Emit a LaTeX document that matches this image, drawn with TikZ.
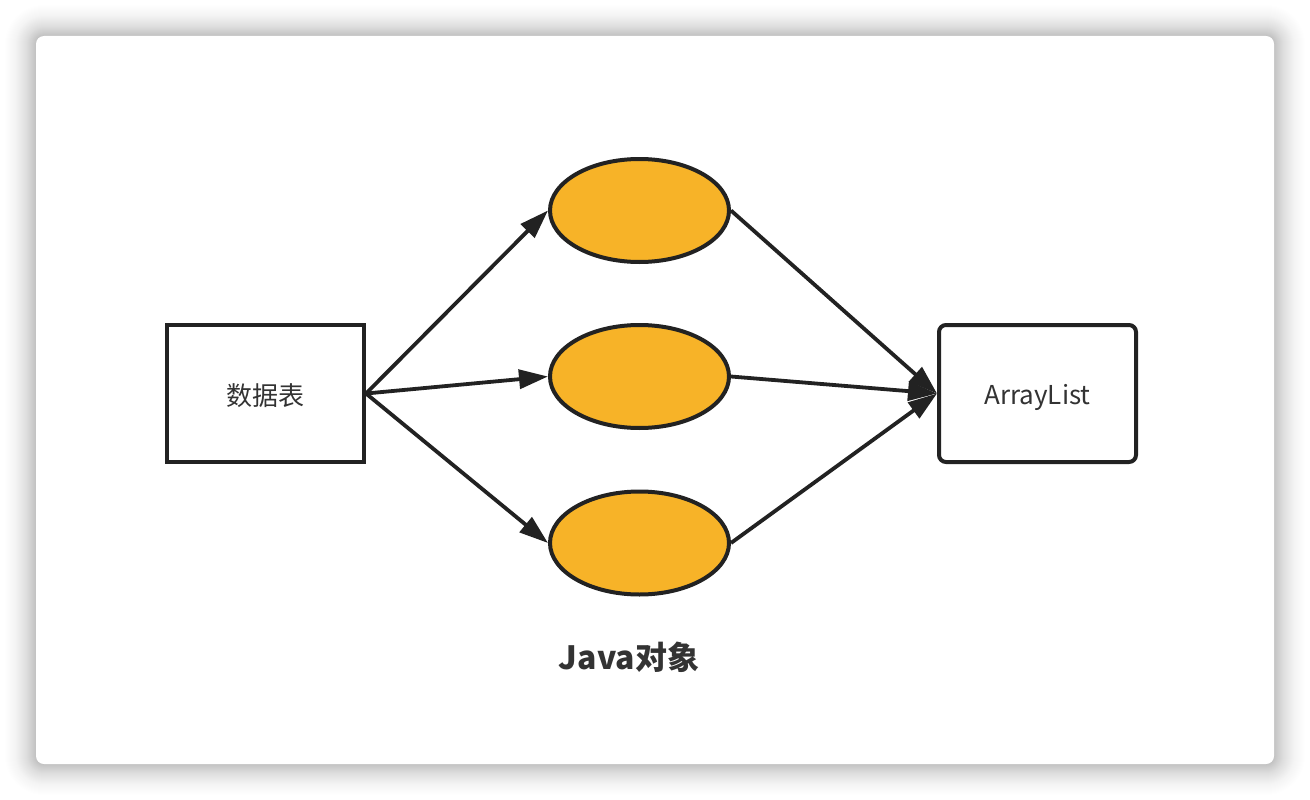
\documentclass[tikz,border=0pt]{standalone}
\usepackage{fontspec}
\setmainfont{Noto Sans CJK SC}
\usetikzlibrary{arrows.meta,shapes.geometric}
\definecolor{ink}{HTML}{222222}
\definecolor{txt}{HTML}{333333}
\definecolor{fillorange}{HTML}{F7B328}
\tikzset{
  boxnode/.style={draw=ink,line width=4pt,minimum width=197pt,minimum height=137pt,inner sep=0pt,font=\fontsize{26}{30}\selectfont,text=txt},
  objnode/.style={ellipse,draw=ink,fill=fillorange,line width=4pt,minimum width=179pt,minimum height=103pt,inner sep=0pt},
  conn/.style={draw=ink,line width=3.8pt,-{Triangle[length=29pt,width=19pt]}},
}
\begin{document}
\begin{tikzpicture}[x=1pt,y=-1pt]
\useasboundingbox (0,0) rectangle (1310,800);
\fill[white] (0,0) rectangle (1310,800);
\foreach \i in {1,...,36}{
  \pgfmathsetmacro\op{0.00035*(37-\i)}
  \fill[black,opacity=\op,rounded corners={(8+\i)*1pt}] ({36-\i},{36-\i}) rectangle ({1274+\i},{764+\i});
}
\fill[white,rounded corners=8pt] (36,36) rectangle (1274,764);

\node[boxnode] (db) at (265.5,393.5) {\smash{\raisebox{-11.5pt}{数据表}}};
\node[boxnode,rounded corners=7pt] (al) at (1037.5,393.5) {\smash{\raisebox{-10.5pt}{ArrayList}}};
\node[objnode] (o1) at (639.5,210.5) {};
\node[objnode] (o2) at (639.5,376.5) {};
\node[objnode] (o3) at (639.5,543) {};

\draw[conn] (db.east) -- (o1.west);
\draw[conn] (db.east) -- (o2.west);
\draw[conn] (db.east) -- (o3.west);
\draw[conn] (o1.east) -- (al.west);
\draw[conn] (o2.east) -- (al.west);
\draw[conn] (o3.east) -- (al.west);

\node[font=\fontsize{32}{36}\selectfont\bfseries,text=txt] (cap) at (629,657) {Java对象};
\end{tikzpicture}
\end{document}
